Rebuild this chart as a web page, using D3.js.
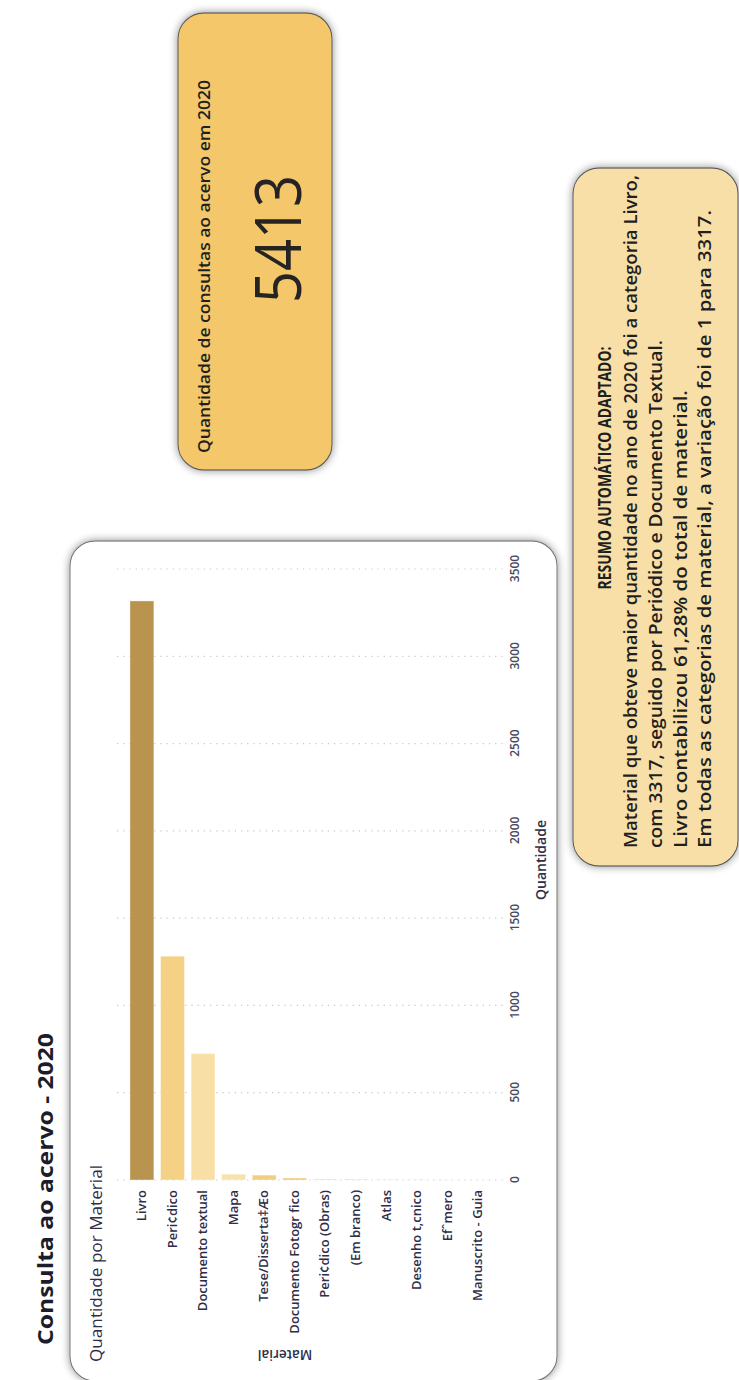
<!DOCTYPE html>
<html>
<head>
<meta charset="utf-8">
<script src="https://cdn.jsdelivr.net/npm/d3@7"></script>
<style>
  html, body { margin: 0; padding: 0; background: #ffffff; }
  svg { display: block; }
  text { font-family: "Open Sans", "Noto Sans", sans-serif; }
</style>
</head>
<body>
<svg id="page" width="739" height="1380"></svg>
<script>
// Consultas ao acervo em 2020, por material
const categories = [
  "Livro", "Peri\u00A2dico", "Documento textual", "Mapa", "Tese/Disserta\u2021\u00C6o",
  "Documento Fotogr\u00A0fico", "Peri\u00A2dico (Obras)", "(Em branco)", "Atlas",
  "Desenho t\u201Acnico", "Ef\u02C6mero", "Manuscrito - Guia"
];
const values = [3317, 1282, 724, 33, 28, 11, 6, 5, 3, 2, 1, 1];
const barColors = [
  "#B8944F", "#F5D186", "#F8DFA6", "#F8E1AC", "#F3CE7F", "#F0C872",
  "#F5DDAA", "#F5DDAA", "#F3DCB0", "#F5DDAA", "#F5DCAA", "#F5DCAA"
];
const tickValues = [0, 500, 1000, 1500, 2000, 2500, 3000, 3500];
const totalConsultas = 5413;
const pageTitle = "Consulta ao acervo - 2020";
const chartTitle = "Quantidade por Material";
const kpiTitle = "Quantidade de consultas ao acervo em 2020";
const summaryTitle = "RESUMO AUTOM\u00C1TICO ADAPTADO:";
const summaryLines = [
  "Material que obteve maior quantidade no ano de 2020 foi a categoria Livro,",
  "com 3317, seguido por Peri\u00F3dico e Documento Textual.",
  "Livro contabilizou 61,28% do total de material.",
  "Em todas as categorias de material, a varia\u00E7\u00E3o foi de 1 para 3317."
];

const W = 739, H = 1380;
const svg = d3.select("#page");

// soft drop shadow for the cards
const defs = svg.append("defs");
const f = defs.append("filter").attr("id", "shadow")
  .attr("x", "-10%").attr("y", "-10%").attr("width", "120%").attr("height", "120%");
f.append("feGaussianBlur").attr("in", "SourceAlpha").attr("stdDeviation", 4).attr("result", "b");
f.append("feComponentTransfer").attr("in", "b").attr("result", "s")
  .append("feFuncA").attr("type", "linear").attr("slope", 0.45);
const fm = f.append("feMerge");
fm.append("feMergeNode").attr("in", "s");
fm.append("feMergeNode").attr("in", "SourceGraphic");

// the report is laid out landscape and turned a quarter turn counter-clockwise
const root = svg.append("g").attr("transform", `translate(0,${H}) rotate(-90)`);

// page title
root.append("text")
  .attr("x", 35).attr("y", 45)
  .attr("dominant-baseline", "central")
  .attr("font-size", 21).attr("font-weight", 700)
  .attr("fill", "#1c1c2a")
  .attr("textLength", 312).attr("lengthAdjust", "spacingAndGlyphs")
  .text(pageTitle);

// ---- chart card ----
const card = { x: -1, y: 70, w: 840, h: 487 };
root.append("rect")
  .attr("x", card.x).attr("y", card.y).attr("width", card.w).attr("height", card.h)
  .attr("rx", 25).attr("ry", 25)
  .attr("fill", "#ffffff").attr("stroke", "#777777").attr("stroke-width", 1.2)
  .attr("filter", "url(#shadow)");

root.append("text")
  .attr("x", 18).attr("y", 95)
  .attr("dominant-baseline", "central")
  .attr("font-size", 16.5).attr("fill", "#2e2e48")
  .attr("textLength", 197).attr("lengthAdjust", "spacingAndGlyphs")
  .text(chartTitle);

const x = d3.scaleLinear().domain([0, 3500]).range([200, 811]);
const y = d3.scaleBand().domain(categories).range([130, 490]).paddingInner(0.22).paddingOuter(0);

// dotted gridlines
root.append("g").selectAll("line").data(tickValues).join("line")
  .attr("x1", d => x(d)).attr("x2", d => x(d))
  .attr("y1", 117).attr("y2", 503)
  .attr("stroke", "#c8c6c4").attr("stroke-width", 1.2)
  .attr("stroke-dasharray", "1.2,5");

// value axis labels
const xAxis = d3.axisBottom(x).tickValues(tickValues).tickFormat(d3.format("d")).tickSize(0).tickPadding(0);
const gx = root.append("g").attr("transform", "translate(0,508)").call(xAxis);
gx.select(".domain").remove();
gx.selectAll("text")
  .attr("y", 7).attr("dy", "0.35em")
  .attr("font-family", "'Open Sans', sans-serif")
  .attr("font-size", 12).attr("font-weight", 600).attr("fill", "#4a4960");

root.append("text")
  .attr("x", 520).attr("y", 540)
  .attr("text-anchor", "middle").attr("dominant-baseline", "central")
  .attr("font-size", 14).attr("font-weight", 600).attr("fill", "#2e2e48")
  .text("Quantidade");

// category axis labels
const yAxis = d3.axisLeft(y).tickSize(0).tickPadding(0);
const gy = root.append("g").attr("transform", "translate(190,0)").call(yAxis);
gy.select(".domain").remove();
gy.selectAll("text")
  .attr("x", 0)
  .attr("font-family", "'Open Sans', sans-serif")
  .attr("font-size", 13).attr("font-weight", 600).attr("fill", "#2e2e48");

root.append("text")
  .attr("transform", "translate(25,285) rotate(-90)")
  .attr("text-anchor", "middle").attr("dominant-baseline", "central")
  .attr("font-size", 13.5).attr("font-weight", 600).attr("fill", "#2e2e48")
  .text("Material");

// bars
root.append("g").selectAll("rect").data(values).join("rect")
  .attr("x", x(0))
  .attr("y", (d, i) => y(categories[i]))
  .attr("width", d => x(d) - x(0))
  .attr("height", y.bandwidth())
  .attr("fill", (d, i) => barColors[i])
  .attr("stroke", "#ffffff").attr("stroke-opacity", 0.35).attr("stroke-width", 1);

// ---- KPI card ----
const kpi = { x: 910, y: 178, w: 457, h: 154 };
root.append("rect")
  .attr("x", kpi.x).attr("y", kpi.y).attr("width", kpi.w).attr("height", kpi.h)
  .attr("rx", 26).attr("ry", 26)
  .attr("fill", "#F3C76B").attr("stroke", "#5a5a5a").attr("stroke-width", 1.2)
  .attr("filter", "url(#shadow)");

root.append("text")
  .attr("x", 927).attr("y", 203)
  .attr("dominant-baseline", "central")
  .attr("font-size", 16.5).attr("font-weight", 600).attr("fill", "#1f1f1f")
  .attr("textLength", 373).attr("lengthAdjust", "spacingAndGlyphs")
  .text(kpiTitle);

root.append("text")
  .attr("x", 1141).attr("y", 276)
  .attr("text-anchor", "middle").attr("dominant-baseline", "central")
  .attr("font-family", "Roboto, sans-serif")
  .attr("font-size", 64).attr("font-weight", 400)
  .attr("fill", "#252423")
  .attr("textLength", 128).attr("lengthAdjust", "spacingAndGlyphs")
  .text(d3.format("d")(totalConsultas));

// ---- summary card ----
const sm = { x: 514, y: 573, w: 698, h: 165 };
root.append("rect")
  .attr("x", sm.x).attr("y", sm.y).attr("width", sm.w).attr("height", sm.h)
  .attr("rx", 26).attr("ry", 26)
  .attr("fill", "#F8DFA7").attr("stroke", "#5a5a5a").attr("stroke-width", 1.2)
  .attr("filter", "url(#shadow)");

root.append("text")
  .attr("x", 912).attr("y", 604)
  .attr("text-anchor", "middle").attr("dominant-baseline", "central")
  .attr("font-size", 17).attr("font-weight", 700).attr("fill", "#1f1f1f")
  .attr("textLength", 243).attr("lengthAdjust", "spacingAndGlyphs")
  .text(summaryTitle);

const lineLens = [673, 508, 458, 638];
root.append("g").selectAll("text").data(summaryLines).join("text")
  .attr("x", 532)
  .attr("y", (d, i) => 630 + i * 24.8)
  .attr("dominant-baseline", "central")
  .attr("font-size", 18).attr("font-weight", 600).attr("fill", "#1f1f1f")
  .attr("textLength", (d, i) => lineLens[i]).attr("lengthAdjust", "spacingAndGlyphs")
  .text(d => d);
</script>
</body>
</html>
